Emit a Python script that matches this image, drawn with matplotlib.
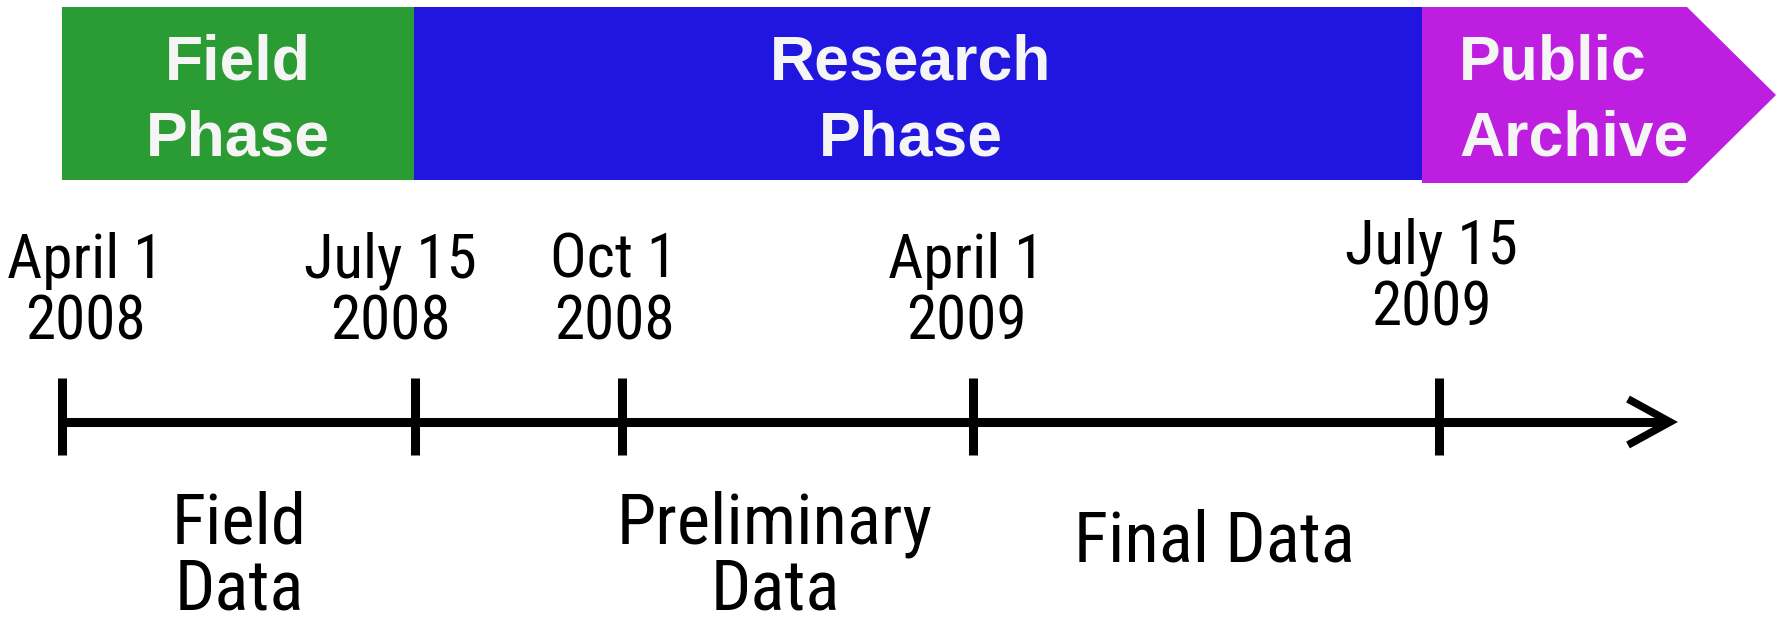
import matplotlib.pyplot as plt
from matplotlib.patches import Polygon
from matplotlib import font_manager

# phases shown as coloured bands across the top
phase_names = ['Field\nPhase', 'Research\nPhase', 'Public\nArchive']
phase_colors = ['#2B9B33', '#2115E0', '#BE1EE0']
phase_edges = [62, 414, 1422, 1687]   # schematic timeline units (last band ends in an arrow)

# milestones on the timeline
milestone_labels = ['April 1\n2008', 'July 15\n2008', 'Oct 1\n2008', 'April 1\n2009', 'July 15\n2009']
milestone_x = [62, 415, 622, 973, 1439]

# data products below the timeline
product_labels = ['Field\nData', 'Preliminary\nData', 'Final Data']
product_x = [239, 775, 1214]

installed = {f.name for f in font_manager.fontManager.ttflist}
narrow = [f for f in ['Liberation Sans Narrow', 'Roboto Condensed', 'Roboto'] if f in installed] + ['DejaVu Sans']
bold = ['Liberation Sans', 'DejaVu Sans']


def main():
    fig = plt.figure(figsize=(17.79, 6.25), dpi=100)
    ax = fig.add_axes([0, 0, 1, 1])
    ax.set_xlim(0, 1779)
    ax.set_ylim(625, 0)
    ax.axis('off')

    # top bands
    top, bot = 7, 180
    text_x = [238, 911, 1459]
    text_ha = ['center', 'center', 'left']
    for i, (name, col) in enumerate(zip(phase_names, phase_colors)):
        x0, x1 = phase_edges[i], phase_edges[i + 1]
        if i == len(phase_names) - 1:
            pts = [(x0, top), (x1, top), (x1 + 89, (top + bot + 3) / 2), (x1, bot + 3), (x0, bot + 3)]
        else:
            pts = [(x0, top), (x1, top), (x1, bot), (x0, bot)]
        ax.add_patch(Polygon(pts, closed=True, facecolor=col, edgecolor='none'))
        for j, line in enumerate(name.split('\n')):
            ax.text(text_x[i], 80 + j * 76, line, ha=text_ha[i], va='baseline',
                    fontsize=45, fontweight='bold', color='#F5F5F5', family=bold)

    # timeline with open arrow head
    y = 422
    ax.plot([milestone_x[0], 1668], [y, y], color='black', lw=6.5, solid_capstyle='butt')
    ax.plot([1628, 1670, 1628], [399, y, 445], color='black', lw=5.5,
            solid_joinstyle='miter', solid_capstyle='butt')
    ax.vlines(milestone_x, 378, 455, color='black', lw=6.5)

    # milestone labels
    label_dx = [23, -25, -8, -7, -8]
    label_raise = [0, 0, 0, 0, 14]
    for x, lab, dx, up in zip(milestone_x, milestone_labels, label_dx, label_raise):
        for j, line in enumerate(lab.split('\n')):
            ax.text(x + dx, 278 + j * 62 - up, line, ha='center', va='baseline',
                    fontsize=44, color='black', family=narrow)

    # data products
    for x, lab in zip(product_x, product_labels):
        lines = lab.split('\n')
        base = 543 if len(lines) > 1 else 562
        for j, line in enumerate(lines):
            ax.text(x, base + j * 66, line, ha='center', va='baseline',
                    fontsize=51, color='black', family=narrow)

    fig.savefig('out.png', dpi=100)


if __name__ == '__main__':
    main()
